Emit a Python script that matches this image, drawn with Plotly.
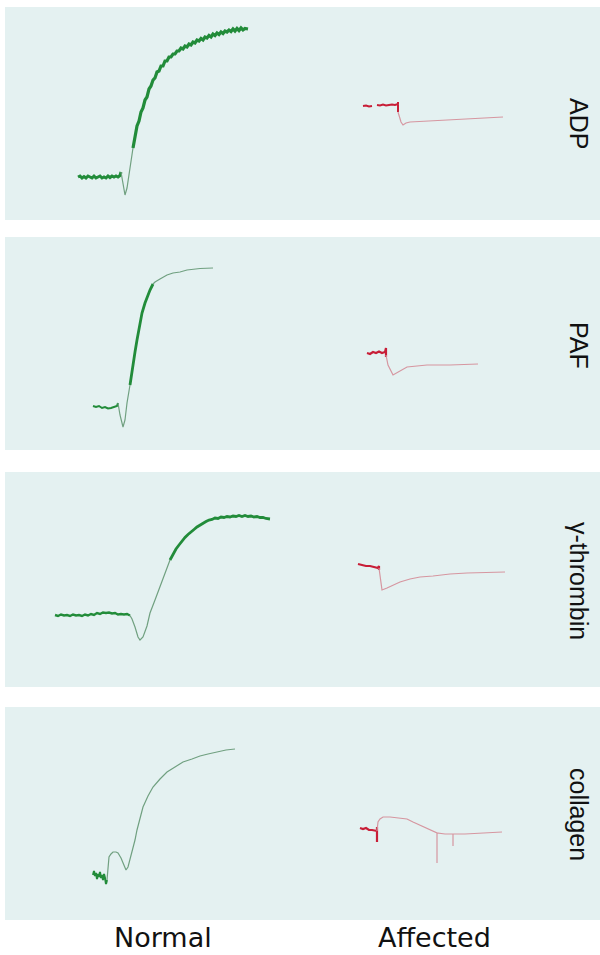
import plotly.graph_objects as go

# ---------------- styling ----------------
BG = "#e4f1f1"
GREEN_THICK = "rgb(34,140,58)"
GREEN_THIN = "rgb(112,160,128)"
RED_THICK = "rgb(200,30,55)"
RED_THIN = "rgb(214,150,160)"

# ---------------- labels ----------------
agonists = ["ADP", "PAF", "γ-thrombin", "collagen"]
groups = ["Normal", "Affected"]

# ---------------- data (time vs. transmission readout) ----------------
# ADP - Normal
adp_n_base_x = [78, 80, 82, 84, 86, 88, 90, 92, 94, 96, 98, 100, 102, 104, 106, 108, 110, 112, 114, 116, 118, 120, 121]
adp_n_base_y = [177, 176, 178, 176.5, 178, 176, 177, 178, 176, 178, 177, 176, 178, 177, 178, 176, 177.5, 176, 177, 176, 177, 175.5, 172]
adp_n_dip_x = [121, 123, 125, 127, 130, 133]
adp_n_dip_y = [172, 182, 195, 188, 167, 148]
adp_n_rise_x = [133, 135, 137, 139, 141, 143, 145, 147, 149, 151, 153, 155, 157, 159, 161, 163, 165, 167, 169, 171,
                173, 175, 177, 179, 181, 183, 185, 187, 189, 191, 193, 195, 197, 199, 201, 203, 205, 207, 209, 211,
                213, 215, 217, 219, 221, 223, 225, 227, 229, 231, 233, 235, 237, 239, 241, 243, 245, 248]
adp_n_rise_y = [148, 138, 126, 121, 112, 108, 100, 97, 89, 86, 80, 78, 72, 71, 66, 66, 61, 61, 57, 57,
                54, 54, 51, 51, 48, 49, 46, 47, 44, 45, 42, 43, 40, 41, 38.5, 40, 37, 38, 35.5, 37,
                34, 35.5, 33, 34.5, 32, 33.5, 31, 32, 30, 31.5, 29, 31, 28.5, 30.5, 28, 30, 28.5, 29]
# ADP - Affected
adp_a_base_x = [363, 366, 369, 372, None, 377, 380, 383, 386, 389, 392, 395, 398, 398, 398]
adp_a_base_y = [106, 105.5, 106.5, 106, None, 105, 105.5, 104.5, 105.5, 105, 104.5, 105, 104, 102, 112]
adp_a_tail_x = [398, 401, 403, 406, 410, 430, 450, 470, 490, 503]
adp_a_tail_y = [112, 122, 125, 123, 122, 121, 120, 119, 118, 117]

# PAF - Normal
paf_n_base_x = [93, 96, 99, 102, 105, 108, 111, 114, 117, 118]
paf_n_base_y = [406, 407, 406, 408, 407, 408.5, 408, 407, 406, 403]
paf_n_dip_x = [118, 120, 123, 125, 127, 130]
paf_n_dip_y = [403, 415, 427, 420, 403, 385]
paf_n_rise_x = [130, 132, 135, 137, 140, 142, 145, 147, 150, 153]
paf_n_rise_y = [385, 370, 352, 340, 325, 313, 303, 297, 290, 284]
paf_n_top_x = [153, 155, 160, 167, 173, 180, 187, 193, 200, 213]
paf_n_top_y = [284, 282, 279, 275, 273, 272, 270, 269, 268.5, 268]
# PAF - Affected
paf_a_base_x = [367, 370, 373, 376, 379, 382, 385, 386, 386, 386]
paf_a_base_y = [353, 354, 352, 353, 351.5, 353, 352, 348, 357, 355]
paf_a_tail_x = [386, 388, 393, 400, 407, 417, 427, 450, 478]
paf_a_tail_y = [355, 365, 375, 371, 367, 366, 365, 365, 364]

# gamma-thrombin - Normal
thr_n_base_x = [55, 58, 61, 64, 67, 70, 73, 76, 79, 82, 85, 88, 91, 94, 97, 100, 103, 106, 109, 112, 115, 118,
                121, 124, 127, 130]
thr_n_base_y = [615, 616, 614.5, 615.5, 615, 616, 614.5, 615.5, 615, 616, 614.5, 615.5, 614, 615, 613, 614, 612.5,
                613, 612.5, 613.5, 613, 614.5, 614, 614.5, 614, 615.5]
thr_n_dip_x = [130, 132, 135, 138, 140, 143, 147, 150, 155, 160, 165, 170]
thr_n_dip_y = [615.5, 619, 627, 637, 640, 637, 626, 613, 600, 587, 573, 560]
thr_n_top_x = [170, 173, 176, 179, 182, 185, 188, 191, 194, 197, 200, 203, 206, 209, 212, 215, 218, 221, 224, 227,
               230, 233, 236, 239, 242, 245, 248, 251, 254, 257, 260, 263, 266, 270]
thr_n_top_y = [560, 554, 549, 545, 541, 537.5, 534.5, 531.5, 529.5, 527, 525, 523, 521.5, 520, 519.5, 518, 518.5,
               517, 517.5, 516.5, 517, 516, 516.5, 515.5, 516.5, 515.5, 516.5, 516, 517, 516.5, 517.5, 517.5,
               518.5, 519]
# gamma-thrombin - Affected
thr_a_base_x = [358, 362, 366, 370, 374, 378, 379, 379, 379]
thr_a_base_y = [564, 565, 566, 566, 567, 568, 566, 570, 568]
thr_a_tail_x = [379, 381, 382, 387, 393, 400, 410, 420, 433, 450, 467, 485, 505]
thr_a_tail_y = [568, 580, 590, 588, 585, 582, 579, 577, 576, 574, 573, 572.5, 572]

# collagen - Normal
col_n_base_x = [93, 94, 95, 96, 97, 98, 99, 100, 101, 102, 103, 104, 105, 106, 107]
col_n_base_y = [875, 871, 876, 873, 879, 874, 877, 872, 878, 875, 880, 874, 878, 884, 880]
col_n_curve_x = [107, 108, 109, 111, 113, 116, 118, 121, 124, 126, 128, 130, 132, 135, 137, 140, 143, 148, 153,
                 160, 167, 175, 183, 192, 200, 208, 217, 226, 235]
col_n_curve_y = [880, 865, 857, 854, 852, 852, 853, 858, 866, 870, 867, 860, 853, 840, 830, 818, 807, 796, 787,
                 779, 772, 767, 762, 759, 756, 754, 752, 750, 749]
# collagen - Affected
col_a_base_x = [360, 363, 366, 369, 372, 375, 377, 377, 377, 377]
col_a_base_y = [828, 829, 828, 830, 830, 831, 831, 827, 842, 831]
col_a_tail_x = [377, 378, 380, 383, 390, 400, 407, 413, 420, 427, 433, 437, 437, 437, 445, 453, 453, 453,
                465, 480, 492, 502]
col_a_tail_y = [831, 822, 819, 817, 817, 818, 819, 822, 825, 828, 831, 833, 863, 833, 834, 834, 846, 834,
                834, 833, 832.5, 832]

# ---------------- panel assembly ----------------
# each segment: (x, y, colour, width)
panels = [
    [(adp_n_base_x, adp_n_base_y, GREEN_THICK, 3.0), (adp_n_dip_x, adp_n_dip_y, GREEN_THIN, 1.2),
     (adp_n_rise_x, adp_n_rise_y, GREEN_THICK, 3.2),
     (adp_a_base_x, adp_a_base_y, RED_THICK, 2.0), (adp_a_tail_x, adp_a_tail_y, RED_THIN, 1.2)],
    [(paf_n_base_x, paf_n_base_y, GREEN_THICK, 2.0), (paf_n_dip_x, paf_n_dip_y, GREEN_THIN, 1.2),
     (paf_n_rise_x, paf_n_rise_y, GREEN_THICK, 2.8), (paf_n_top_x, paf_n_top_y, GREEN_THIN, 1.2),
     (paf_a_base_x, paf_a_base_y, RED_THICK, 2.2), (paf_a_tail_x, paf_a_tail_y, RED_THIN, 1.2)],
    [(thr_n_base_x, thr_n_base_y, GREEN_THICK, 2.4), (thr_n_dip_x, thr_n_dip_y, GREEN_THIN, 1.2),
     (thr_n_top_x, thr_n_top_y, GREEN_THICK, 2.8),
     (thr_a_base_x, thr_a_base_y, RED_THICK, 2.2), (thr_a_tail_x, thr_a_tail_y, RED_THIN, 1.2)],
    [(col_n_base_x, col_n_base_y, GREEN_THICK, 2.0), (col_n_curve_x, col_n_curve_y, GREEN_THIN, 1.2),
     (col_a_base_x, col_a_base_y, RED_THICK, 2.2), (col_a_tail_x, col_a_tail_y, RED_THIN, 1.2)],
]

# panel frames (top, bottom of each readout strip)
frames = [(7, 220), (237, 450), (472, 687), (707, 920)]
label_pos = [123, 345, 581, 814]
H = 955
W = 600

fig = go.Figure()
for i, segs in enumerate(panels):
    ax = "" if i == 0 else str(i + 1)
    for (xs, ys, col, w) in segs:
        fig.add_trace(go.Scatter(x=xs, y=ys, mode="lines", line=dict(color=col, width=w),
                                 xaxis="x" + ax, yaxis="y" + ax, hoverinfo="skip",
                                 showlegend=False, connectgaps=False))
    top, bot = frames[i]
    fig.layout["xaxis" + ax] = dict(domain=[5 / W, 1], range=[5, 600], visible=False, fixedrange=True,
                                    anchor="y" + ax)
    fig.layout["yaxis" + ax] = dict(domain=[1 - bot / H, 1 - top / H], range=[bot, top], visible=False,
                                    fixedrange=True, anchor="x" + ax)

annotations = []
for name, yc in zip(agonists, label_pos):
    annotations.append(dict(text=name, x=579 / W, y=1 - yc / H, xref="paper", yref="paper",
                            showarrow=False, textangle=90, xanchor="center", yanchor="middle",
                            font=dict(family="Liberation Sans, Arial, sans-serif", size=25, color="#111111")))
for name, xc in zip(groups, [162.5, 434.5]):
    annotations.append(dict(text=name, x=xc / W, y=1 - 937 / H, xref="paper", yref="paper",
                            showarrow=False, xanchor="center", yanchor="middle", borderpad=0,
                            font=dict(family="DejaVu Sans, sans-serif", size=27, color="#111111")))

fig.update_layout(width=W, height=H, margin=dict(l=0, r=0, t=0, b=0),
                  paper_bgcolor="white", plot_bgcolor=BG, annotations=annotations)

fig.write_html("out.html", config={"displayModeBar": False, "staticPlot": True},
               post_script="document.body.style.margin='0';")
